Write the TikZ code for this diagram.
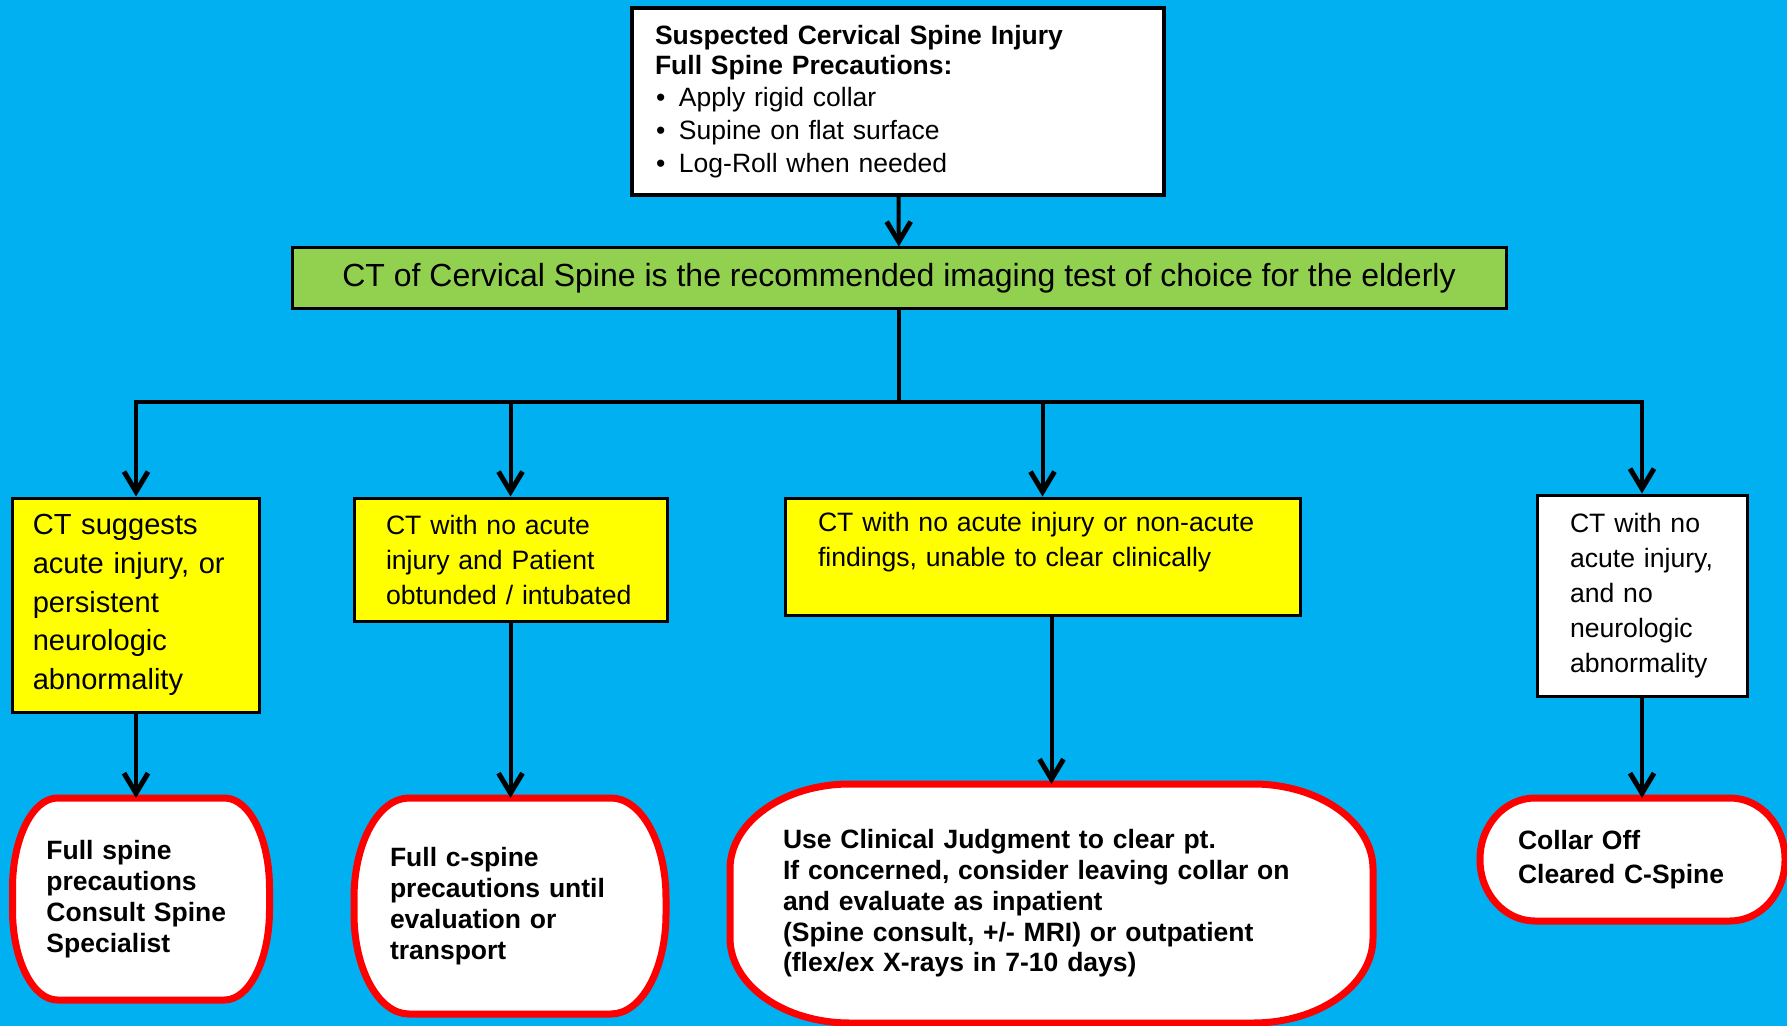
\documentclass[tikz,border=0pt]{standalone}
\usepackage{fontspec}
\setmainfont{Liberation Sans}
\usepackage{tikz}
\usetikzlibrary{arrows.meta, calc, backgrounds}
\definecolor{skyback}{HTML}{00B0F0}
\definecolor{ctgreen}{HTML}{92D050}
\definecolor{findyellow}{HTML}{FFFF00}
\definecolor{stopred}{HTML}{FF0000}
\tikzset{
	precaution/.style={rectangle, draw=black, line width=2pt, fill=white, align=left, text width=243pt, inner xsep=11.5pt, minimum height=93.5pt, font=\fontsize{13.25pt}{14.8pt}\selectfont},
	imaging/.style={rectangle, draw=black, line width=1.5pt, fill=ctgreen, minimum width=607pt, minimum height=30.5pt, font=\fontsize{16pt}{19pt}\selectfont},
	finding/.style={rectangle, draw=black, line width=1.5pt, fill=findyellow, align=left, inner xsep=16pt, font=\fontsize{13.3pt}{17.5pt}\selectfont},
	outcome/.style={rectangle, draw=none, align=left, outer sep=0pt, font=\bfseries\fontsize{13.25pt}{15.4pt}\selectfont},
	stopframe/.style={draw=stopred, line width=3.5pt, fill=white},
	link/.style={line width=2pt},
	arrow/.style={line width=2pt, -{Straight Barb[length=10pt, width=12pt, line width=2.5pt]}}
}
% rounded outcome frame: node, x radius, y radius
\newcommand{\termframe}[3]{%
	\path[stopframe] ($(#1.north west)+(#2,0)$) -- ($(#1.north east)+(-#2,0)$)
		arc[start angle=90, end angle=0, x radius=#2, y radius=#3]
		-- ($(#1.south east)+(0,#3)$)
		arc[start angle=0, end angle=-90, x radius=#2, y radius=#3]
		-- ($(#1.south west)+(#2,0)$)
		arc[start angle=270, end angle=180, x radius=#2, y radius=#3]
		-- ($(#1.north west)+(0,-#3)$)
		arc[start angle=180, end angle=90, x radius=#2, y radius=#3]
		-- cycle;}

\begin{document}
\begin{tikzpicture}[x=0.5pt, y=0.5pt]
	\begin{scope}[on background layer]
		\fill[skyback] (0,0) rectangle (1787,-1026);
	\end{scope}
	\useasboundingbox (0,0) rectangle (1787,-1026);

	\node (suspect) [precaution] at (898,-101.5) {\textbf{Suspected Cervical Spine Injury}\\
		\textbf{Full Spine Precautions:}\\[1.5pt]
		\makebox[12pt][l]{\hspace{0.5pt}\textbullet}Apply rigid collar\\[1.5pt]
		\makebox[12pt][l]{\hspace{0.5pt}\textbullet}Supine on flat surface\\[1.5pt]
		\makebox[12pt][l]{\hspace{0.5pt}\textbullet}Log-Roll when needed};
	\node (ctscan) [imaging] at (899,-278.5) {CT of Cervical Spine is the recommended imaging test of choice for the elderly};
	\coordinate (split) at (899,-402);

	% CT findings
	\node (acute) [finding, text width=103.25pt, inner xsep=10pt, minimum height=107pt, font=\fontsize{14.55pt}{19.4pt}\selectfont] at (136,-605) {CT suggests\\acute injury, or\\persistent\\neurologic\\abnormality};
	\node (obtunded) [finding, text width=124.5pt, minimum height=61.5pt] at (510.5,-559.5) {CT with no acute\\injury and Patient\\obtunded / intubated};
	\node (unclear) [finding, text width=224.5pt, inner xsep=16.5pt, minimum height=58.5pt] at (1042.5,-556.5) {CT with no acute injury or non-acute\\findings, unable to clear clinically\\\mbox{}};
	\node (negative) [finding, fill=white, text width=72pt, inner xsep=16.5pt, minimum height=100.5pt] at (1642,-595.5) {CT with no\\acute injury,\\and no\\neurologic\\abnormality};

	% outcomes
	\node (fullspine) [outcome, text width=94.5pt, inner xsep=17pt, minimum height=101pt] at (141,-899) {Full spine\\precautions\\Consult Spine\\Specialist};
	\node (untiltransport) [outcome, text width=120pt, inner xsep=18pt, minimum height=108pt] at (510,-906) {Full c-spine\\precautions until\\evaluation or\\transport};
	\node (judgment) [outcome, text width=268.5pt, inner xsep=26.5pt, minimum height=119.5pt] at (1051.5,-903.5) {Use Clinical Judgment to clear pt.\\If concerned, consider leaving collar on\\and evaluate as inpatient\\(Spine consult, +/- MRI) or outpatient\\(flex/ex X-rays in 7-10 days)};
	\node (collaroff) [outcome, text width=114.5pt, inner xsep=19pt, minimum height=61.5pt, font=\bfseries\fontsize{13.25pt}{17pt}\selectfont] at (1632.5,-859.5) {Collar Off\\Cleared C-Spine};

	\begin{scope}[on background layer]
		\termframe{fullspine}{45}{90}
		\termframe{untiltransport}{55}{100}
		\termframe{judgment}{120}{85}
		\termframe{collaroff}{55}{61}
	\end{scope}

	% Branching connectors
	\draw [arrow] (suspect) -- (ctscan);
	\draw [link] (ctscan) -- (split);
	\draw [arrow] (split) -| (acute);
	\draw [arrow] (split) -| (obtunded);
	\draw [arrow] (split) -| (unclear);
	\draw [arrow] (split) -| (negative);

	% Findings to outcomes
	\draw [arrow] (acute) -- (acute |- fullspine.north);
	\draw [arrow] (obtunded) -- (obtunded |- untiltransport.north);
	\draw [arrow] (judgment.north |- unclear.south) -- (judgment);
	\draw [arrow] (negative) -- (negative |- collaroff.north);
\end{tikzpicture}
\end{document}
